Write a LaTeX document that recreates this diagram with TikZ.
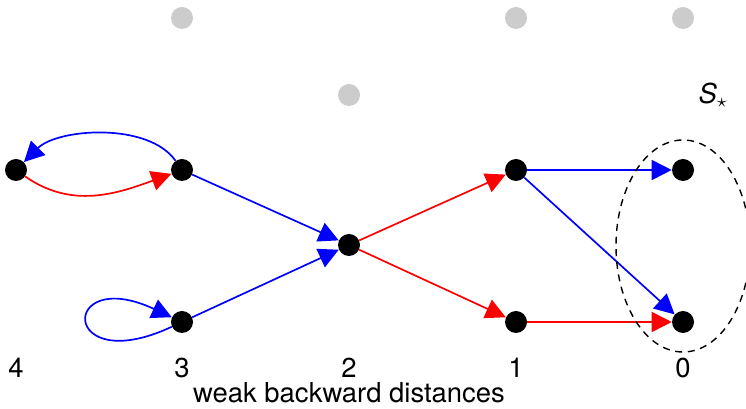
\documentclass[tikz,border=0pt]{standalone}
\usepackage{fontspec}
\setmainfont{TeX Gyre Heros}
\usetikzlibrary{arrows.meta}

\begin{document}
\begin{tikzpicture}[
      x=0.025cm, y=0.025cm,
      punkt/.style={circle, fill=black, inner sep=0pt, minimum size=0.55cm},
      grau/.style={circle, fill=black!20, inner sep=0pt, minimum size=0.55cm},
      blaukante/.style={-{Triangle[length=0.5cm,width=0.5cm]}, blue, line width=1.2pt},
      rotkante/.style={-{Triangle[length=0.5cm,width=0.5cm]}, red, line width=1.2pt},
      beschriftung/.style={font=\fontsize{19.5}{23}\selectfont}
    ]
    \useasboundingbox (0,0) rectangle (746,409);
    \def\OY{239}  % obere Reihe
    \def\MY{164}  % mittlere Reihe
    \def\UY{87}   % untere Reihe
    \def\LY{41}   % Zeile der Abstaende

    % ---------- graue Punkte ----------
    \node[grau] (g3) at (182,391) {};
    \node[grau] (g1) at (516,391) {};
    \node[grau] (g0) at (683,391) {};
    \node[grau] (g2) at (349,314) {};

    % ---------- schwarze Punkte ----------
    \node[punkt] (A4t) at (16,\OY)  {};
    \node[punkt] (A3t) at (182,\OY) {};
    \node[punkt] (A2)  at (349,\MY) {};
    \node[punkt] (A1t) at (516,\OY) {};
    \node[punkt] (A0t) at (683,\OY) {};
    \node[punkt] (A3b) at (182,\UY) {};
    \node[punkt] (A1b) at (516,\UY) {};
    \node[punkt] (A0b) at (683,\UY) {};

    % ---------- Kanten ----------
    \draw[blaukante] (A3t) to[out=125, in=45, looseness=0.8] (A4t);
    \draw[rotkante]  (A4t) to[out=-35, in=200] (A3t);
    \draw[blaukante] (A3b) to[out=205, in=155, min distance=3.1cm] (A3b);
    \draw[blaukante] (A3t) -- (A2);
    \draw[blaukante] (A3b) -- (A2);
    \draw[rotkante]  (A2) -- (A1t);
    \draw[rotkante]  (A2) -- (A1b);
    \draw[blaukante] (A1t) -- (A0t);
    \draw[blaukante] (A1t) -- (A0b);
    \draw[rotkante]  (A1b) -- (A0b);

    % ---------- Zielmenge ----------
    \draw[dashed, line width=1pt, dash pattern=on 5pt off 4pt]
      (683,163) ellipse [x radius=67, y radius=106];
    \node[beschriftung] (S) at (713,314) {\textit{S}$_\star$};

    % ---------- Beschriftung ----------
    \foreach \d/\x in {4/16, 3/182, 2/349, 1/516, 0/683}{
      \node[beschriftung] (d\d) at (\x,\LY) {\d};
    }
    \node[beschriftung] (titel) at (349,16) {weak backward distances};
  \end{tikzpicture}
\end{document}
